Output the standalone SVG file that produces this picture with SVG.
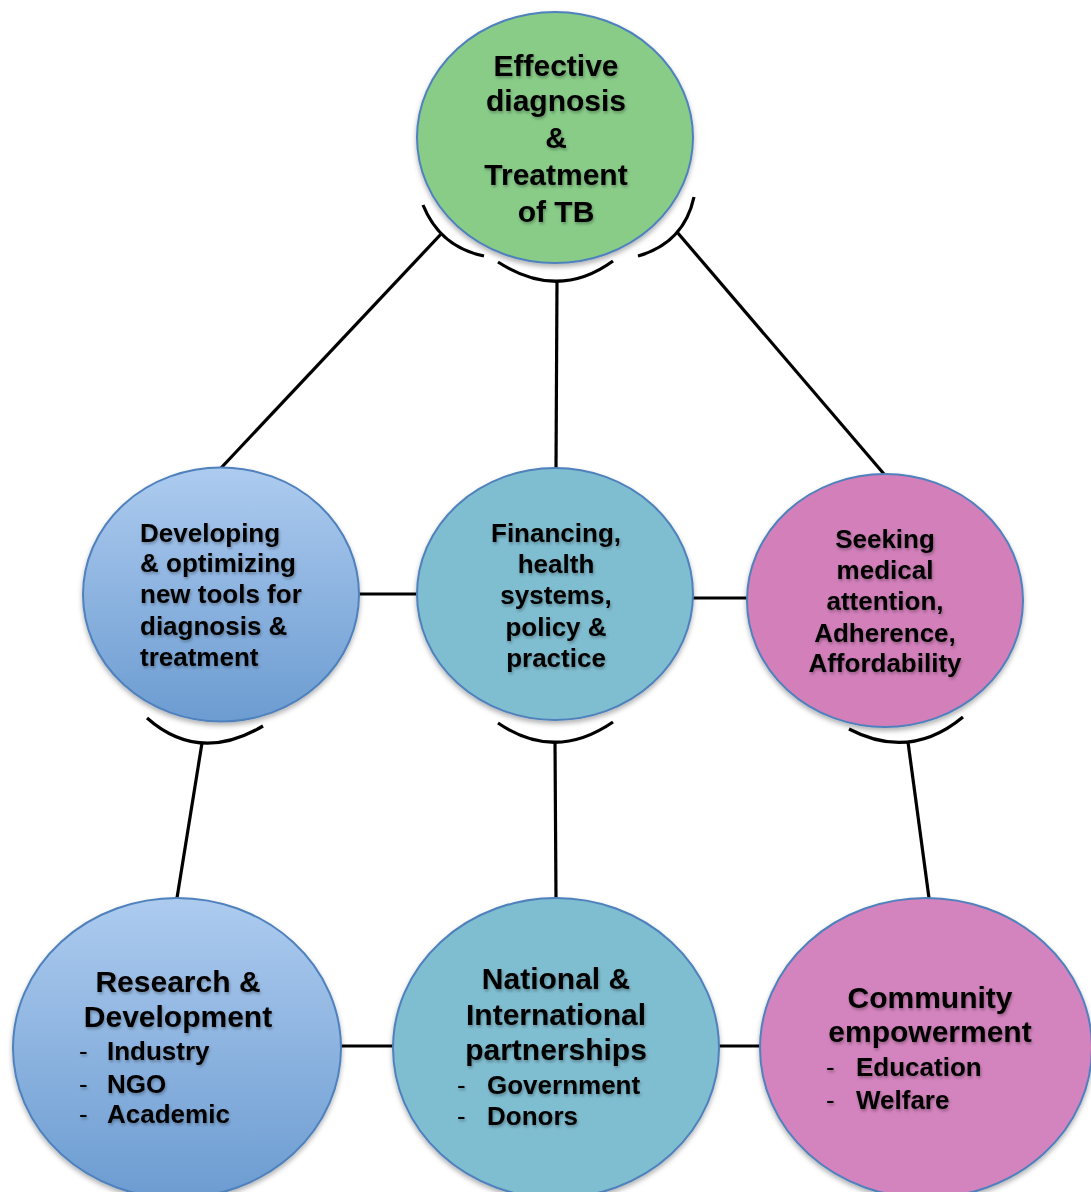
<svg xmlns="http://www.w3.org/2000/svg" width="1091" height="1192" viewBox="0 0 1091 1192">
<style>
.node{stroke:#4f81bd;stroke-width:2;filter:url(#sh)}
.t{font-family:"Liberation Sans",Arial,sans-serif;font-weight:bold;fill:#000;filter:url(#ts)}
.d{font-weight:normal}
.c{text-anchor:middle}
.f30{font-size:30px}
.f26{font-size:26px}
.ln{stroke:#000;stroke-width:3.2;fill:none}
</style>
<defs>
<linearGradient id="blue" x1="0" y1="0" x2="0" y2="1">
<stop offset="0" stop-color="#adcbef"/>
<stop offset="1" stop-color="#6c9cd1"/>
</linearGradient>
<filter id="sh" x="-10%" y="-10%" width="120%" height="125%">
<feDropShadow dx="0" dy="3" stdDeviation="2.5" flood-color="#000" flood-opacity="0.3"/>
</filter>
<filter id="ts" x="-10%" y="-30%" width="120%" height="160%">
<feDropShadow dx="1" dy="2" stdDeviation="1.5" flood-color="#000" flood-opacity="0.3"/>
</filter>
</defs>
<rect width="1091" height="1192" fill="#fff"/>
<g id="connectors">
<line class="ln" x1="442" y1="233" x2="221" y2="468"/>
<line class="ln" x1="557" y1="281" x2="556" y2="468"/>
<line class="ln" x1="677" y1="232" x2="884" y2="474"/>
<line class="ln" x1="359" y1="594" x2="417" y2="594"/>
<line class="ln" x1="693" y1="598" x2="747" y2="598"/>
<line class="ln" x1="202" y1="743" x2="177" y2="898"/>
<line class="ln" x1="555" y1="742" x2="556" y2="898"/>
<line class="ln" x1="908" y1="742" x2="929" y2="898"/>
<line class="ln" x1="341" y1="1046" x2="393" y2="1046"/>
<line class="ln" x1="719" y1="1046" x2="760" y2="1046"/>
<path class="ln" d="M423,205 Q440,247 484,256"/>
<path class="ln" d="M498,262 Q558,301 613,261"/>
<path class="ln" d="M638,256 Q684,243 694,197"/>
<path class="ln" d="M147,718 Q199,764 263,726"/>
<path class="ln" d="M498,723 Q555,762 613,722"/>
<path class="ln" d="M849,729 Q910,761 963,717"/>
</g>
<g id="n-top">
<ellipse class="node" cx="555" cy="137.5" rx="138" ry="125.5" fill="#88cc88"/>
<text class="t c f30" x="556" y="76">Effective</text>
<text class="t c f30" x="556" y="111">diagnosis</text>
<text class="t c f30" x="556" y="148">&amp;</text>
<text class="t c f30" x="556" y="185">Treatment</text>
<text class="t c f30" x="556" y="222">of TB</text>
</g>
<g id="n-tools">
<ellipse class="node" cx="221" cy="594.5" rx="138" ry="127" fill="url(#blue)"/>
<text class="t f26" x="140" y="542">Developing</text>
<text class="t f26" x="140" y="572">&amp; optimizing</text>
<text class="t f26" x="140" y="603">new tools for</text>
<text class="t f26" x="140" y="635">diagnosis &amp;</text>
<text class="t f26" x="140" y="666">treatment</text>
</g>
<g id="n-finance">
<ellipse class="node" cx="555" cy="594" rx="138" ry="126" fill="#7fbdd0"/>
<text class="t c f26" x="556" y="542">Financing,</text>
<text class="t c f26" x="556" y="573">health</text>
<text class="t c f26" x="556" y="604">systems,</text>
<text class="t c f26" x="556" y="636">policy &amp;</text>
<text class="t c f26" x="556" y="667">practice</text>
</g>
<g id="n-seeking">
<ellipse class="node" cx="885" cy="600.5" rx="138" ry="126.5" fill="#d27fba"/>
<text class="t c f26" x="885" y="548">Seeking</text>
<text class="t c f26" x="885" y="579">medical</text>
<text class="t c f26" x="885" y="610">attention,</text>
<text class="t c f26" x="885" y="642">Adherence,</text>
<text class="t c f26" x="885" y="672">Affordability</text>
</g>
<g id="n-research">
<ellipse class="node" cx="177" cy="1048" rx="164" ry="150" fill="url(#blue)"/>
<text class="t c f30" x="178" y="992">Research &amp;</text>
<text class="t c f30" x="178" y="1027">Development</text>
<text class="t d f26" x="79" y="1060">-</text>
<text class="t f26" x="107" y="1060">Industry</text>
<text class="t d f26" x="79" y="1093">-</text>
<text class="t f26" x="107" y="1093">NGO</text>
<text class="t d f26" x="79" y="1123">-</text>
<text class="t f26" x="107" y="1123">Academic</text>
</g>
<g id="n-partners">
<ellipse class="node" cx="556" cy="1048" rx="163" ry="150" fill="#7fbdd0"/>
<text class="t c f30" x="556" y="989">National &amp;</text>
<text class="t c f30" x="556" y="1025">International</text>
<text class="t c f30" x="556" y="1060">partnerships</text>
<text class="t d f26" x="457" y="1094">-</text>
<text class="t f26" x="487" y="1094">Government</text>
<text class="t d f26" x="457" y="1125">-</text>
<text class="t f26" x="487" y="1125">Donors</text>
</g>
<g id="n-community">
<ellipse class="node" cx="926" cy="1048" rx="166" ry="150" fill="#d383bd"/>
<text class="t c f30" x="930" y="1008">Community</text>
<text class="t c f30" x="930" y="1042">empowerment</text>
<text class="t d f26" x="826" y="1076">-</text>
<text class="t f26" x="856" y="1076">Education</text>
<text class="t d f26" x="826" y="1109">-</text>
<text class="t f26" x="856" y="1109">Welfare</text>
</g>
</svg>
